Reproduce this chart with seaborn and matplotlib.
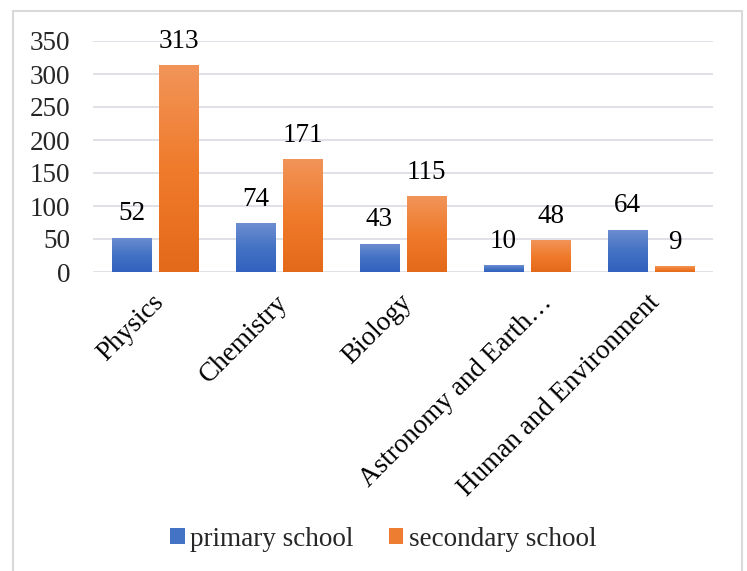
import numpy as np
import pandas as pd
import matplotlib
matplotlib.use("Agg")
import matplotlib.pyplot as plt
import seaborn as sns
from matplotlib.colors import LinearSegmentedColormap
from matplotlib.patches import Rectangle, Patch
from matplotlib.transforms import offset_copy, blended_transform_factory

# ---- data ----
subjects = ["Physics", "Chemistry", "Biology", "Astronomy and Earth\u2026", "Human and Environment"]
primary_school = [52, 74, 43, 10, 64]
secondary_school = [313, 171, 115, 48, 9]
series_names = ["primary school", "secondary school"]
y_ticks = [0, 50, 100, 150, 200, 250, 300, 350]

df = pd.DataFrame({
    "subject": subjects * 2,
    "school": [series_names[0]] * len(subjects) + [series_names[1]] * len(subjects),
    "count": primary_school + secondary_school,
})

# ---- style ----
sns.set_theme(style="white")
plt.rcParams["font.family"] = ["Liberation Serif", "DejaVu Serif"]
FS = 19.5
grid_col = "#d9dce1"

base_cols = {series_names[0]: "#4472c4", series_names[1]: "#ed7d31"}
grad_stops = {
    series_names[0]: ["#3261bf", "#4472c4", "#6d8ed1"],
    series_names[1]: ["#e4691a", "#ef7b2b", "#f29459"],
}

fig = plt.figure(figsize=(7.47, 5.71), dpi=100)
W, H = 747, 571
ax = fig.add_axes([93 / W, 1 - 272 / H, (713 - 93) / W, (272 - 41) / H])

sns.barplot(data=df, x="subject", y="count", hue="school", order=subjects,
            hue_order=series_names, palette=base_cols, width=0.76, gap=0.17,
            saturation=1, legend=False, ax=ax, zorder=3)

# gradient fill for each bar
grad = np.linspace(0, 1, 256).reshape(-1, 1)
for cont, name in zip(ax.containers, series_names):
    cmap = LinearSegmentedColormap.from_list(name, grad_stops[name])
    for bar in cont:
        x0, y0 = bar.get_x(), bar.get_y()
        w, h = bar.get_width(), bar.get_height()
        im = ax.imshow(grad, extent=[x0, x0 + w, y0, y0 + h], origin="lower",
                       aspect="auto", cmap=cmap, zorder=3, interpolation="bilinear")
        im.set_clip_path(bar)
        bar.set_facecolor("none")
        bar.set_edgecolor("none")
    labels = [f"{int(v)}" for v in cont.datavalues]
    for bar, lab in zip(cont, labels):
        ax.annotate(lab, (bar.get_x() + bar.get_width() / 2, bar.get_height()),
                    xytext=(0, 12.5), textcoords="offset points",
                    ha="center", va="baseline", fontsize=FS, color="black")

ax.set_xlim(-0.5, len(subjects) - 0.5)
ax.set_ylim(0, 350)
ax.set_yticks(y_ticks)
ax.set_yticklabels([str(t) for t in y_ticks], fontsize=FS)
ax.tick_params(axis="y", length=0, pad=16.5)
ax.yaxis.grid(True, color=grid_col, linewidth=1.2, zorder=0)
ax.set_axisbelow(True)
for s in ax.spines.values():
    s.set_visible(False)
ax.set_xlabel("")
ax.set_ylabel("")

# rotated category labels
ax.set_xticks(range(len(subjects)))
ax.set_xticklabels([])
ax.tick_params(axis="x", length=0)
trans = blended_transform_factory(ax.transData, ax.transAxes)
label_shift = [0, 0, 0, 12, 0]
for i, (lab, dx) in enumerate(zip(subjects, label_shift)):
    t = offset_copy(trans, fig=fig, x=-3 + dx, y=-13, units="points")
    ax.text(i, 0, lab, transform=t, rotation=45, rotation_mode="anchor",
            ha="right", va="top", fontsize=FS, color="black")

# legend
handles = [Patch(facecolor=base_cols[n], edgecolor="none") for n in series_names]
fig.legend(handles, series_names, loc="center", bbox_to_anchor=(383 / W, 1 - 539 / H),
           ncol=2, frameon=False, fontsize=FS, handlelength=0.55, handleheight=0.55,
           handletextpad=0.2, columnspacing=1.3)

# outer chart border
fig.add_artist(Rectangle((12.5 / W, -0.05), (742 - 12.5) / W, 1.05 - 11.5 / H,
                         transform=fig.transFigure, fill=False,
                         edgecolor="#d9d9d9", linewidth=1.5))

fig.savefig("out.png", dpi=100, facecolor="white")
